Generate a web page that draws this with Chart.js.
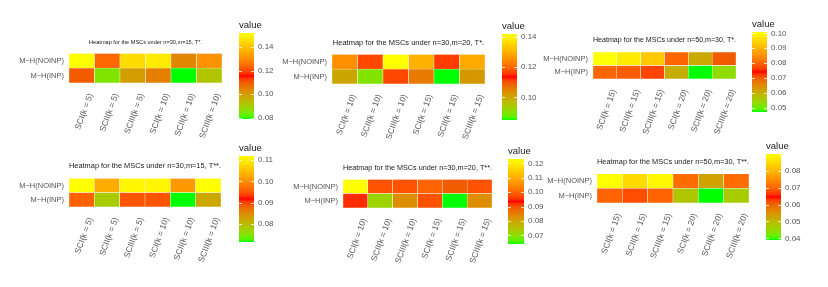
<!DOCTYPE html>
<html>
<head>
<meta charset="utf-8">
<script src="https://cdn.jsdelivr.net/npm/chart.js@4.4.1/dist/chart.umd.min.js"></script>
<style>
  body { margin: 0; background: #fff; width: 828px; height: 287px; position: relative; overflow: hidden; }
  canvas { position: absolute; }
</style>
</head>
<body>
<script>
// --- data ---
const rowLabels = ["M\u2212H(NOINP)", "M\u2212H(INP)"];

const cols5_10 = ["SCI(k = 5)", "SCII(k = 5)", "SCIII(k = 5)", "SCI(k = 10)", "SCII(k = 10)", "SCIII(k = 10)"];
const cols10_15 = ["SCI(k = 10)", "SCII(k = 10)", "SCIII(k = 10)", "SCI(k = 15)", "SCII(k = 15)", "SCIII(k = 15)"];
const cols15_20 = ["SCI(k = 15)", "SCII(k = 15)", "SCIII(k = 15)", "SCI(k = 20)", "SCII(k = 20)", "SCIII(k = 20)"];

const titles = [
  "Heatmap for the MSCs under n=30,m=15, T*.",
  "Heatmap for the MSCs under n=30,m=20, T*.",
  "Heatmap for the MSCs under n=50,m=30, T*.",
  "Heatmap for the MSCs under n=30,m=15, T**.",
  "Heatmap for the MSCs under n=30,m=20, T**.",
  "Heatmap for the MSCs under n=50,m=30, T**."
];

const noinp1 = [0.152, 0.124, 0.145, 0.148, 0.104, 0.131];
const inp1   = [0.110, 0.085, 0.100, 0.105, 0.079, 0.092];
const noinp2 = [0.125, 0.117, 0.142, 0.130, 0.116, 0.129];
const inp2   = [0.100, 0.090, 0.117, 0.106, 0.085, 0.102];
const noinp3 = [0.101, 0.098, 0.093, 0.080, 0.061, 0.070];
const inp3   = [0.080, 0.079, 0.077, 0.060, 0.047, 0.053];
const noinp4 = [0.112, 0.103, 0.111, 0.111, 0.101, 0.112];
const inp4   = [0.096, 0.078, 0.095, 0.095, 0.0715, 0.082];
const noinp5 = [0.123, 0.098, 0.098, 0.100, 0.089, 0.098];
const inp5   = [0.095, 0.072, 0.083, 0.098, 0.064, 0.083];
const noinp6 = [0.090, 0.085, 0.089, 0.071, 0.053, 0.071];
const inp6   = [0.070, 0.068, 0.070, 0.048, 0.039, 0.047];

const breaks1 = [0.08, 0.10, 0.12, 0.14];
const breaks2 = [0.10, 0.12, 0.14];
const breaks3 = [0.05, 0.06, 0.07, 0.08, 0.09, 0.10];
const breaks4 = [0.08, 0.09, 0.10, 0.11];
const breaks5 = [0.07, 0.08, 0.09, 0.10, 0.11, 0.12];
const breaks6 = [0.04, 0.05, 0.06, 0.07, 0.08];

// placement of each panel on the page (plot area, title centre, colour bar)
const panels = [
  { cols: cols5_10,  top: noinp1, bottom: inp1, breaks: breaks1, area: [69, 222, 53, 83],    titleY: 42.5,  titleSize: 5.6, bar: [239, 254, 32, 118] },
  { cols: cols10_15, top: noinp2, bottom: inp2, breaks: breaks2, area: [332, 485, 54, 84],   titleY: 42.5,  titleSize: 7.5, bar: [502, 517, 33, 119] },
  { cols: cols15_20, top: noinp3, bottom: inp3, breaks: breaks3, area: [593, 736, 52, 79],   titleY: 39.7,  titleSize: 7.5, bar: [752, 767, 31, 111] },
  { cols: cols5_10,  top: noinp4, bottom: inp4, breaks: breaks4, area: [69, 221, 178, 207],  titleY: 165.5, titleSize: 7.5, bar: [239, 254, 155, 241] },
  { cols: cols10_15, top: noinp5, bottom: inp5, breaks: breaks5, area: [343, 492, 179, 208], titleY: 167.5, titleSize: 7.5, bar: [508, 524, 158, 243] },
  { cols: cols15_20, top: noinp6, bottom: inp6, breaks: breaks6, area: [597, 749, 174, 203], titleY: 162,   titleSize: 7.5, bar: [766, 781, 153, 239] }
];

Chart.defaults.font.family = "'Liberation Sans', Arial, sans-serif";
Chart.defaults.animation = false;

// green -> red -> yellow, interpolated in Lab like ggplot's gradientn
const stops = [[0, 255, 0], [255, 0, 0], [255, 255, 0]];
function lin(c) { c /= 255; return c <= 0.04045 ? c / 12.92 : Math.pow((c + 0.055) / 1.055, 2.4); }
function toLab(rgb) {
  const R = lin(rgb[0]), G = lin(rgb[1]), B = lin(rgb[2]);
  const X = (0.4124564 * R + 0.3575761 * G + 0.1804375 * B) / 0.95047;
  const Y = 0.2126729 * R + 0.7151522 * G + 0.0721750 * B;
  const Z = (0.0193339 * R + 0.1191920 * G + 0.9503041 * B) / 1.08883;
  const f = t => t > 0.008856 ? Math.cbrt(t) : 7.787 * t + 16 / 116;
  return [116 * f(Y) - 16, 500 * (f(X) - f(Y)), 200 * (f(Y) - f(Z))];
}
function fromLab(lab) {
  const fy = (lab[0] + 16) / 116, fx = fy + lab[1] / 500, fz = fy - lab[2] / 200;
  const inv = t => t * t * t > 0.008856 ? t * t * t : (t - 16 / 116) / 7.787;
  const X = inv(fx) * 0.95047, Y = inv(fy), Z = inv(fz) * 1.08883;
  const enc = c => {
    c = c <= 0.0031308 ? 12.92 * c : 1.055 * Math.pow(c, 1 / 2.4) - 0.055;
    return Math.round(Math.min(1, Math.max(0, c)) * 255);
  };
  return "rgb(" + enc(3.2404542 * X - 1.5371385 * Y - 0.4985314 * Z) + "," +
    enc(-0.9692660 * X + 1.8760108 * Y + 0.0415560 * Z) + "," +
    enc(0.0556434 * X - 0.2040259 * Y + 1.0572252 * Z) + ")";
}
const labStops = stops.map(toLab);
function colorAt(t) {
  t = Math.min(1, Math.max(0, t));
  const seg = Math.min(labStops.length - 2, Math.floor(t * (labStops.length - 1)));
  const u = t * (labStops.length - 1) - seg;
  const a = labStops[seg], b = labStops[seg + 1];
  return fromLab([0, 1, 2].map(i => a[i] + (b[i] - a[i]) * u));
}

function addCanvas(left, top, w, h) {
  const c = document.createElement("canvas");
  c.width = Math.round(w); c.height = Math.round(h);
  c.style.left = left + "px"; c.style.top = top + "px";
  document.body.appendChild(c);
  return c;
}

// short white ticks inside the colour bar
const barTicks = {
  id: "barTicks",
  afterDatasetsDraw(chart) {
    const { ctx, chartArea: a, scales: { y } } = chart;
    ctx.save();
    ctx.strokeStyle = "#fff";
    ctx.lineWidth = 0.8;
    y.ticks.forEach(t => {
      const py = Math.round(y.getPixelForValue(t.value)) + 0.5;
      ctx.beginPath();
      ctx.moveTo(a.left, py); ctx.lineTo(a.left + 3, py);
      ctx.moveTo(a.right - 3, py); ctx.lineTo(a.right, py);
      ctx.stroke();
    });
    ctx.restore();
  }
};

panels.forEach((p, k) => {
  const all = p.top.concat(p.bottom);
  const lo = Math.min(...all), hi = Math.max(...all);
  const fill = v => colorAt((v - lo) / (hi - lo));
  const tile = p.cols.map(() => 1);

  // heatmap
  const [ax0, ax1, ay0, ay1] = p.area;
  const yAxisW = 62, xAxisH = 62, padR = 4;
  const fs = p.titleSize;
  const cTop = p.titleY - fs / 2 - 2;
  const hm = addCanvas(ax0 - yAxisW, cTop, yAxisW + (ax1 - ax0) + padR, (ay1 - cTop) + xAxisH);
  new Chart(hm, {
    type: "bar",
    data: {
      labels: p.cols,
      datasets: [
        { label: rowLabels[1], data: tile, backgroundColor: p.bottom.map(fill) },
        { label: rowLabels[0], data: tile, backgroundColor: p.top.map(fill) }
      ]
    },
    options: {
      responsive: false,
      layout: { padding: { left: 0, right: padR, top: 0, bottom: 0 } },
      datasets: { bar: { barPercentage: 1, categoryPercentage: 1, borderColor: "#fff", borderWidth: 0.5, borderSkipped: false } },
      plugins: {
        legend: { display: false },
        tooltip: { enabled: false },
        title: {
          display: true, text: titles[k], fullSize: false, color: "#1a1a1a",
          font: { size: fs, weight: "normal", lineHeight: 1 },
          padding: { top: 2, bottom: ay0 - p.titleY - fs / 2 }
        }
      },
      scales: {
        x: {
          stacked: true,
          grid: { display: false, drawTicks: false },
          border: { display: false },
          ticks: { autoSkip: false, minRotation: 70, maxRotation: 70, padding: 9, labelOffset: 9, color: "#555", font: { size: 8.4 } },
          afterFit: s => { s.height = xAxisH; s.paddingLeft = 0; s.paddingRight = 0; }
        },
        y: {
          stacked: true, min: 0, max: 2,
          grid: { display: false, drawTicks: false },
          border: { display: false },
          ticks: { padding: 5, color: "#555", font: { size: 7.5 }, callback: v => rowLabels[v > 1 ? 0 : 1] },
          afterBuildTicks: s => { s.ticks = [{ value: 0.5 }, { value: 1.5 }]; },
          afterFit: s => { s.width = yAxisW; s.paddingTop = 0; s.paddingBottom = 0; }
        }
      }
    }
  });

  // colour bar
  const [bx0, bx1, by0, by1] = p.bar;
  const axisW = 34, padB = 6;
  const lg = addCanvas(bx0, by0 - 13.5, (bx1 - bx0) + axisW, 13.5 + (by1 - by0) + padB);
  new Chart(lg, {
    type: "bar",
    data: {
      labels: ["value"],
      datasets: [{
        data: [[lo, hi]],
        backgroundColor: c => {
          const ch = c.chart;
          if (!ch.chartArea) return null;
          const ys = ch.scales.y;
          const g = ch.ctx.createLinearGradient(0, ys.getPixelForValue(lo), 0, ys.getPixelForValue(hi));
          for (let i = 0; i <= 40; i++) g.addColorStop(i / 40, colorAt(i / 40));
          return g;
        }
      }]
    },
    options: {
      responsive: false,
      layout: { padding: { left: 0, right: 0, top: 0, bottom: padB } },
      datasets: { bar: { barPercentage: 1, categoryPercentage: 1, borderWidth: 0 } },
      plugins: {
        legend: { display: false },
        tooltip: { enabled: false },
        title: {
          display: true, text: "value", align: "start", color: "#1a1a1a",
          font: { size: 9.5, weight: "normal", lineHeight: 1 },
          padding: { top: 2, bottom: 2.5 }
        }
      },
      scales: {
        x: { display: false },
        y: {
          position: "right", min: lo, max: hi,
          grid: { display: false, drawTicks: false },
          border: { display: false },
          ticks: { padding: 4, color: "#555", font: { size: 8 }, callback: v => v.toFixed(2) },
          afterBuildTicks: s => { s.ticks = p.breaks.map(v => ({ value: v })); },
          afterFit: s => { s.width = axisW; s.paddingTop = 0; s.paddingBottom = 0; }
        }
      }
    },
    plugins: [barTicks]
  });
});
</script>
</body>
</html>
